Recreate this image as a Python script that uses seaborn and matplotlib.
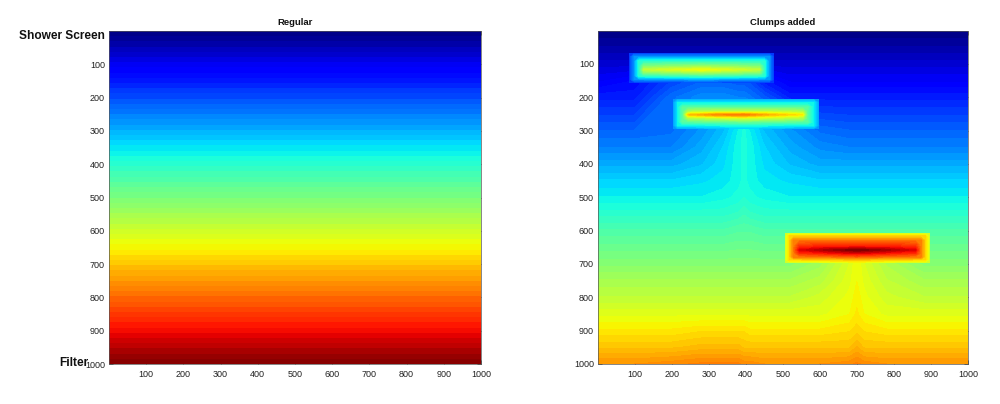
import numpy as np
import pandas as pd
import matplotlib
matplotlib.use("Agg")
import matplotlib.pyplot as plt
import seaborn as sns

# ---------- data (colour value in percent of the jet range) ----------
regular_values = [
    0.8, 2.3, 3.9, 5.5, 7.0, 8.6, 10.2, 11.7, 13.3, 14.8, 16.4, 18.0, 19.5, 21.1, 22.7, 24.2,
    25.8, 27.3, 28.9, 30.5, 32.0, 33.6, 35.2, 36.7, 38.3, 39.8, 41.4, 43.0, 44.5, 46.1, 47.7, 49.2,
    50.8, 52.3, 53.9, 55.5, 57.0, 58.6, 60.2, 61.7, 63.3, 64.8, 66.4, 68.0, 69.5, 71.1, 72.7, 74.2,
    75.8, 77.3, 78.9, 80.5, 82.0, 83.6, 85.2, 86.7, 88.3, 89.8, 91.4, 93.0, 94.5, 96.1, 97.7, 99.2]

bg_x = [1, 100, 200, 280, 340, 380, 395, 410, 450, 520, 600, 680, 700, 720, 780, 880, 1000]
bg_depth = [1, 100, 155, 200, 300, 350, 400, 450, 500, 550, 600, 700, 750, 800, 850, 900, 950, 1000]
bg_values = [
    [0, 0, 0, 0, 0, 0, 0, 0, 0, 0, 0, 0, 0, 0, 0, 0, 0],
    [7, 7, 7, 7, 7, 7, 7, 7, 7, 7, 7, 7, 7, 7, 7, 7, 7],
    [11, 13, 19, 22, 22, 21, 21, 20, 15, 11, 11, 11, 11, 11, 11, 11, 11],
    [15, 15, 23, 26, 26, 25, 25, 24, 21, 15, 15, 15, 15, 15, 15, 15, 15],
    [22, 22, 23, 27, 31, 36, 38, 36, 31, 27, 23, 22, 22, 22, 22, 22, 22],
    [25, 25, 25, 29, 33, 37, 38, 37, 33, 29, 26, 25, 25, 25, 25, 25, 25],
    [29, 29, 29, 31, 34, 37, 38, 37, 34, 31, 29, 29, 29, 29, 29, 29, 29],
    [33, 33, 33, 34, 35, 37, 38, 37, 35, 34, 33, 33, 33, 33, 33, 33, 33],
    [36, 36, 36, 36, 37, 38, 39, 38, 37, 36, 36, 36, 36, 36, 36, 36, 36],
    [40, 40, 40, 40, 40, 41, 42, 41, 40, 40, 40, 40, 40, 40, 40, 40, 40],
    [44, 44, 44, 44, 44, 45, 45, 45, 44, 44, 44, 44, 44, 44, 44, 44, 44],
    [51, 51, 51, 51, 51, 51, 51, 51, 51, 51, 54, 61, 64, 61, 56, 51, 51],
    [55, 55, 55, 55, 55, 55, 55, 55, 55, 55, 57, 62, 64, 62, 58, 55, 55],
    [58, 58, 58, 58, 58, 58, 58, 58, 58, 58, 60, 63, 65, 63, 60, 58, 58],
    [62, 62, 62, 62, 62, 62, 62, 62, 62, 62, 62, 64, 66, 64, 62, 62, 62],
    [66, 66, 66, 67, 67, 67, 67, 66, 66, 66, 66, 67, 68, 67, 66, 66, 66],
    [70, 70, 70, 71, 71, 71, 70, 70, 70, 70, 70, 70, 72, 70, 70, 70, 70],
    [75, 75, 76, 77, 77, 77, 76, 76, 75, 75, 75, 76, 77, 76, 75, 75, 75],
]

clump1_x = [87, 99, 112, 125, 200, 280, 360, 436, 450, 463, 475]
clump1_depth = [67, 79, 92, 107, 117, 126, 135, 146, 155]
clump1_values = [
    [18, 18, 18, 18, 18, 18, 18, 18, 18, 18, 18],
    [18, 27, 27, 27, 27, 27, 27, 27, 27, 27, 18],
    [18, 27, 40, 40, 40, 40, 40, 40, 40, 27, 18],
    [18, 27, 40, 50, 52, 53, 52, 50, 40, 27, 18],
    [18, 27, 40, 58, 61, 64, 61, 58, 40, 27, 18],
    [18, 27, 40, 50, 52, 54, 52, 50, 40, 27, 18],
    [18, 27, 40, 41, 42, 43, 42, 41, 40, 27, 18],
    [18, 27, 27, 27, 28, 29, 28, 27, 27, 27, 18],
    [18, 18, 18, 18, 19, 20, 19, 18, 18, 18, 18],
]
clump2_x = [205, 217, 230, 245, 320, 395, 470, 553, 566, 583, 596]
clump2_depth = [205, 217, 230, 243, 252, 262, 273, 284, 295]
clump2_values = [
    [28, 28, 28, 28, 28, 28, 28, 28, 28, 28, 28],
    [28, 36, 36, 36, 36, 36, 36, 36, 36, 36, 28],
    [28, 36, 46, 46, 46, 46, 46, 46, 46, 36, 28],
    [28, 36, 46, 56, 58, 58, 58, 56, 46, 36, 28],
    [28, 36, 46, 70, 76, 78, 71, 66, 46, 36, 28],
    [28, 36, 46, 56, 59, 61, 59, 56, 46, 36, 28],
    [28, 36, 46, 46, 47, 48, 47, 46, 46, 36, 28],
    [28, 36, 36, 36, 37, 38, 37, 36, 36, 36, 28],
    [28, 28, 28, 28, 30, 32, 30, 28, 28, 28, 28],
]
clump3_x = [506, 518, 530, 545, 620, 700, 780, 858, 872, 884, 896]
clump3_depth = [607, 617, 630, 648, 658, 667, 678, 687, 696]
clump3_values = [
    [60, 60, 60, 60, 60, 60, 60, 60, 60, 60, 60],
    [60, 68, 68, 68, 68, 68, 68, 68, 68, 68, 60],
    [60, 68, 78, 78, 78, 78, 78, 78, 78, 68, 60],
    [60, 68, 78, 86, 88, 88, 88, 86, 78, 68, 60],
    [60, 68, 78, 91, 96, 100, 96, 91, 78, 68, 60],
    [60, 68, 78, 86, 89, 92, 89, 86, 78, 68, 60],
    [60, 68, 78, 78, 79, 81, 79, 78, 78, 68, 60],
    [60, 68, 68, 68, 69, 70, 69, 68, 68, 68, 60],
    [60, 60, 60, 60, 61, 63, 61, 60, 60, 60, 60],
]
clumps = [
    (clump1_x, clump1_depth, clump1_values),
    (clump2_x, clump2_depth, clump2_values),
    (clump3_x, clump3_depth, clump3_values),
]
tick_values = [100, 200, 300, 400, 500, 600, 700, 800, 900, 1000]
panel_titles = ["Regular", "Clumps added"]

# ---------- drawing ----------
sns.set_style("white")
plt.rcParams["font.family"] = ["Liberation Sans", "DejaVu Sans"]
W, H = 1000, 404
fig = plt.figure(figsize=(W / 100, H / 100), dpi=100)
ax_l = fig.add_axes([109 / W, 1 - 364 / H, 372 / W, 333 / H])
ax_r = fig.add_axes([598 / W, 1 - 364 / H, 370 / W, 333 / H])

table = pd.DataFrame({"Regular": regular_values}) / 100
sns.heatmap(table, ax=ax_l, cmap="jet", vmin=0, vmax=1, cbar=False,
            xticklabels=False, yticklabels=False)
n_rows = len(regular_values)
ax_l.set_xticks([t / 1000 for t in tick_values], labels=[str(t) for t in tick_values])
ax_l.set_yticks([t / 1000 * n_rows for t in tick_values], labels=[str(t) for t in tick_values])
ax_l.set_ylabel("")

levels = np.linspace(0, 1, 65)
ax_r.contourf(bg_x, bg_depth, np.array(bg_values) / 100, levels=levels, cmap="jet", vmin=0, vmax=1)
for cx, cd, cv in clumps:
    ax_r.contourf(cx, cd, np.array(cv) / 100, levels=levels, cmap="jet", vmin=0, vmax=1)
ax_r.set_xlim(1, 1000)
ax_r.set_ylim(1000, 1)
ax_r.set_xticks(tick_values, labels=[str(t) for t in tick_values])
ax_r.set_yticks(tick_values, labels=[str(t) for t in tick_values])

for ax, title in zip((ax_l, ax_r), panel_titles):
    ax.set_title(title, fontsize=6.8, fontweight="bold", pad=4.5, color="#111111")
    ax.tick_params(axis="both", which="both", direction="in", length=3, width=0.5,
                   labelsize=6.5, colors="#222222", pad=3)
    ax.tick_params(axis="x", pad=4.5)
    ax.xaxis.set_ticks_position("both")
    ax.yaxis.set_ticks_position("both")
    for s in ax.spines.values():
        s.set_visible(True)
        s.set_linewidth(0.5)
        s.set_color("#555555")

fig.text(105 / W, 1 - 36 / H, "Shower Screen", ha="right", va="center",
         fontsize=8.6, fontweight="bold", color="#111111")
fig.text(88 / W, 1 - 363 / H, "Filter", ha="right", va="center",
         fontsize=8.6, fontweight="bold", color="#111111")

fig.savefig("out.png", dpi=100)
